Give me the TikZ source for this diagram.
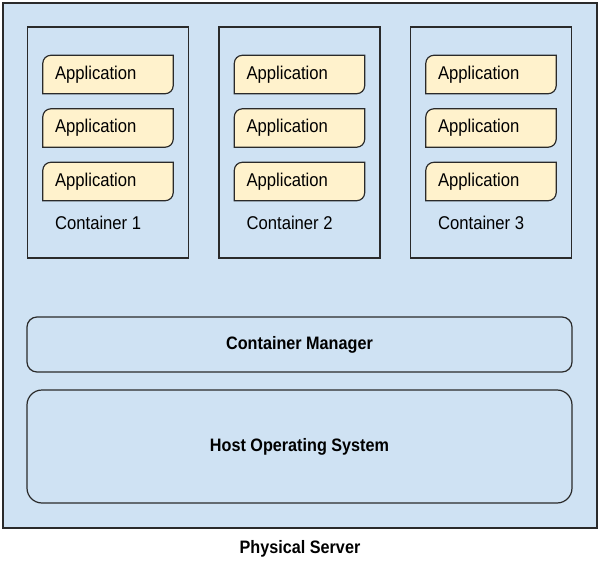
\documentclass[tikz,border=0pt]{standalone}
\usepackage{fontspec}
\setmainfont{Liberation Sans}[FakeStretch=0.9]
\usetikzlibrary{backgrounds,calc}
\definecolor{serverblue}{HTML}{CFE2F3}
\definecolor{appyellow}{HTML}{FFF2CC}
\definecolor{edgegray}{HTML}{2A2A2A}
\tikzset{
  stroke/.style={draw=edgegray, line width=1.2pt},
  serverbox/.style={stroke, fill=serverblue, minimum width=594pt, minimum height=525pt, inner sep=0pt},
  contbox/.style={stroke, minimum width=161pt, minimum height=231pt, inner sep=0pt},
  appnode/.style={minimum width=130pt, minimum height=38pt, inner sep=0pt, text width=106pt, align=left,
     font=\fontsize{18.5}{20}\selectfont},
  contlabel/.style={anchor=west, inner sep=0pt, font=\fontsize{18.5}{20}\selectfont},
  layerbox/.style={stroke, minimum width=545pt, inner sep=0pt, font=\bfseries\fontsize{18}{20}\selectfont},
  title/.style={inner sep=0pt, font=\bfseries\fontsize{18}{20}\selectfont}
}
\newcommand\appframe[1]{%
  \draw[stroke, fill=appyellow]
    ($(#1.north west)+(0,8)$) .. controls ($(#1.north west)+(0,3.6)$) and ($(#1.north west)+(3.6,0)$) .. ($(#1.north west)+(8,0)$)
    -- (#1.north east)
    -- ($(#1.south east)+(0,-8)$) .. controls ($(#1.south east)+(0,-3.6)$) and ($(#1.south east)+(-3.6,0)$) .. ($(#1.south east)+(-8,0)$)
    -- (#1.south west) -- cycle;}
\begin{document}
\begin{tikzpicture}[x=1pt,y=-1pt]
\useasboundingbox (0,0) rectangle (598,562);
\begin{scope}[on background layer]
\node[serverbox] (server) at (300,265.5) {};
\end{scope}
\foreach \i/\cx in {1/108,2/299.5,3/491}{
  \node[contbox] (cont\i) at (\cx,142.5) {};
  \foreach \j/\cy in {1/74.5,2/128,3/181.5}{
    \node[appnode] (app\i\j) at (\cx,\cy) {Application};
  }
  \node[contlabel] (lab\i) at ([xshift=28pt]cont\i.west |- 0,223) {Container \i};
}
\begin{scope}[on background layer]
  \foreach \i in {1,2,3}{\foreach \j in {1,2,3}{\appframe{app\i\j}}}
\end{scope}
\node[layerbox, minimum height=55pt, rounded corners=10pt] (cm) at (299.5,344.5) {Container Manager};
\node[layerbox, minimum height=113pt, rounded corners=15pt] (hos) at (299.5,446.5) {};
\node[title] (hostext) at (299.5,447) {Host Operating System};
\node[title] (ps) at (300,549) {Physical Server};
\end{tikzpicture}
\end{document}
